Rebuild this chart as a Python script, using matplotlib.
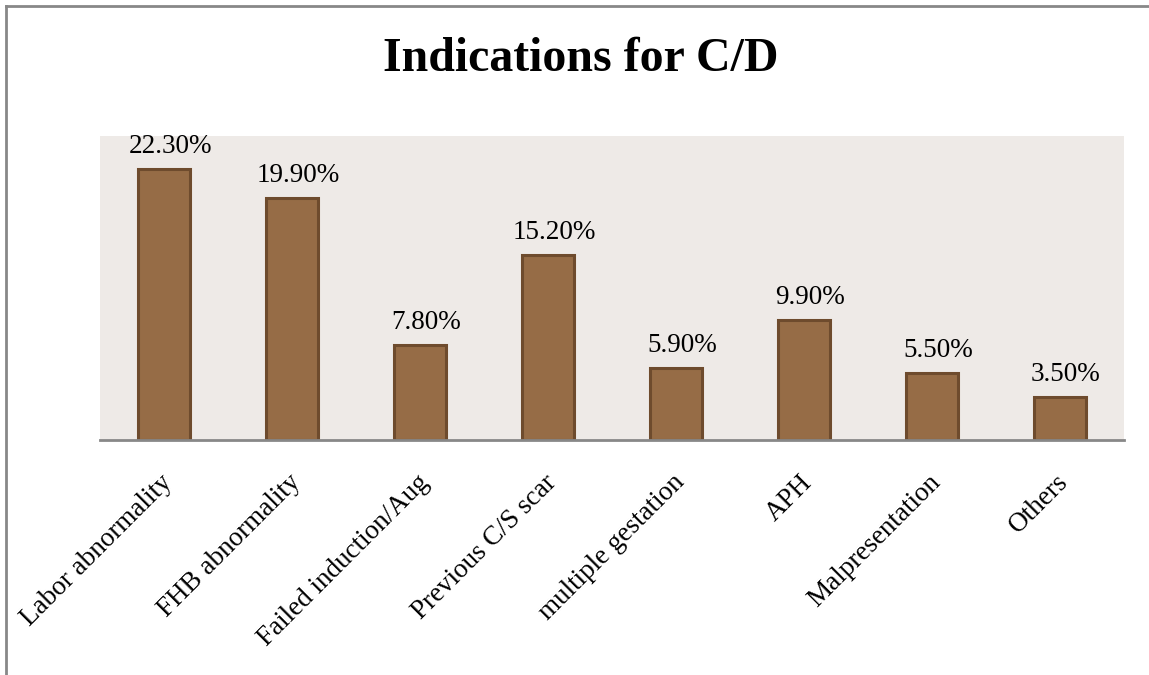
import matplotlib
matplotlib.use("Agg")
import matplotlib.pyplot as plt
from matplotlib.lines import Line2D
from matplotlib import transforms

categories = ["Labor abnormality", "FHB abnormality", "Failed induction/Aug",
              "Previous C/S scar", "multiple gestation", "APH",
              "Malpresentation", "Others"]
values = [22.3, 19.9, 7.8, 15.2, 5.9, 9.9, 5.5, 3.5]

plt.rcParams['font.family'] = ['Liberation Serif', 'DejaVu Serif']

W, H = 1149, 675
fig = plt.figure(figsize=(W / 100, H / 100), dpi=100)
ax = fig.add_axes([100 / W, 1 - 440 / H, 1024 / W, 304 / H])
ax.set_facecolor('#EEEAE7')

x = list(range(len(categories)))
bars = ax.bar(x, values, width=0.41, color='#966C46', edgecolor='#6E4B2D', linewidth=2.2, zorder=2)
ax.set_xlim(-0.5, len(categories) - 0.5)
ax.set_ylim(0, 25)

for b, v in zip(bars, values):
    ax.annotate(f"{v:.2f}%", (b.get_x() + b.get_width() / 2, v),
                xytext=(6, 10), textcoords='offset pixels',
                ha='center', va='bottom', fontsize=19.5, color='black')

for s in ['top', 'right', 'left']:
    ax.spines[s].set_visible(False)
ax.spines['bottom'].set_color('#888888')
ax.spines['bottom'].set_linewidth(2)
ax.set_yticks([])
ax.set_xticks(x)
ax.tick_params(axis='x', length=0)
offset = transforms.ScaledTranslation(-4 / 100, -25 / 100, fig.dpi_scale_trans)
ax.set_xticklabels(categories, rotation=45, ha='right', va='top',
                   rotation_mode='anchor', fontsize=19.5)
for lbl in ax.get_xticklabels():
    lbl.set_transform(lbl.get_transform() + offset)

fig.text(581 / W, 1 - 71 / H, "Indications for C/D", ha='center', va='baseline',
         fontsize=34.5, fontweight='bold')

fig.add_artist(Line2D([6 / W, 6 / W], [0, 1 - 6 / H], transform=fig.transFigure,
                      color='#888888', linewidth=2))
fig.add_artist(Line2D([6 / W, 1], [1 - 6 / H, 1 - 6 / H], transform=fig.transFigure,
                      color='#888888', linewidth=2))

fig.savefig('out.png', dpi=100)
